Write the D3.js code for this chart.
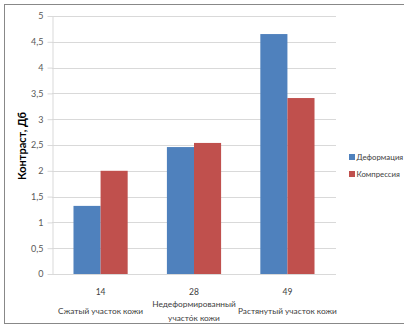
<!DOCTYPE html>
<html><head><meta charset="utf-8">
<script src="https://cdn.jsdelivr.net/npm/d3@7/dist/d3.min.js"></script>
<style>body{margin:0;background:#fff}text{font-family:Lato,"Liberation Sans",Arial,sans-serif}</style>
</head><body><svg id="c" width="404" height="325"></svg>
<script>
const categories = ["14", "28", "49"];
const categoryNames = [["Сжатый участок кожи"], ["Недеформированный", "участо́к кожи"], ["Растянутый участок кожи"]];
const seriesNames = ["Деформация", "Компрессия"];
const deformation = [1.32, 2.46, 4.65];
const compression = [2.0, 2.54, 3.41];
const yTicks = [0, 0.5, 1, 1.5, 2, 2.5, 3, 3.5, 4, 4.5, 5];
const colors = ["#4F81BD", "#C0504D"];

const svg = d3.select("#c");
svg.append("rect").attr("x",4.5).attr("y",4.5).attr("width",404).attr("height",319)
  .attr("fill","none").attr("stroke","#888").attr("stroke-width",1);

const pLeft=52, pRight=336, pTop=16, pBottom=274;
const x = d3.scaleBand().domain(categories).range([pLeft,pRight]).paddingInner(0.42).paddingOuter(0.23);
const xs = d3.scaleBand().domain(seriesNames).range([0,x.bandwidth()]);
const y = d3.scaleLinear().domain([0,5]).range([pBottom,pTop]);

const fmt = d => String(d).replace(".", ",");
svg.append("g").selectAll("line").data(yTicks.filter(d=>d>0)).join("line")
  .attr("x1",pLeft).attr("x2",pRight).attr("y1",d=>Math.round(y(d))+0.5).attr("y2",d=>Math.round(y(d))+0.5)
  .attr("stroke","#d9d9d9").attr("stroke-width",1);
const ya = svg.append("g").attr("transform",`translate(${pLeft+0.5},0)`)
  .call(d3.axisLeft(y).tickValues(yTicks).tickFormat(fmt).tickSize(5).tickSizeOuter(0));
ya.select(".domain").attr("stroke","#d9d9d9");
ya.selectAll(".tick line").attr("stroke","#d9d9d9");
ya.selectAll(".tick text").attr("fill","#595959").attr("font-size","9px").attr("x",-9);
svg.append("line").attr("x1",pLeft).attr("x2",pRight).attr("y1",pBottom+0.5).attr("y2",pBottom+0.5).attr("stroke","#d9d9d9");

const data = categories.map((c,i)=>({c, vals:[deformation[i], compression[i]]}));
const g = svg.append("g").selectAll("g").data(data).join("g").attr("transform",d=>`translate(${x(d.c)},0)`);
g.selectAll("rect").data(d=>d.vals.map((v,j)=>({v,s:seriesNames[j],j}))).join("rect")
  .attr("x",d=>xs(d.s)).attr("width",xs.bandwidth()).attr("y",d=>y(d.v)).attr("height",d=>pBottom-y(d.v))
  .attr("fill",d=>colors[d.j]);

categories.forEach((c,i)=>{
  const cx = x(c)+x.bandwidth()/2;
  svg.append("text").attr("x",cx).attr("y",295).attr("text-anchor","middle").attr("font-size","8.5px").attr("fill","#404040").text(c);
  const lines = categoryNames[i];
  const y0 = lines.length===1 ? 314 : 306.5;
  lines.forEach((t,k)=>svg.append("text").attr("x",cx).attr("y",y0+k*14).attr("text-anchor","middle")
    .attr("font-size","8.3px").attr("fill","#404040").text(t));
});

svg.append("text").attr("transform","translate(26,146) rotate(-90)").attr("text-anchor","middle")
  .attr("font-size","11px").attr("font-weight","bold").attr("fill","#000").text("Контраст, Дб");

const lg = svg.append("g").selectAll("g").data(seriesNames).join("g")
  .attr("transform",(d,i)=>`translate(349,${157+i*17})`);
lg.append("rect").attr("x",0).attr("y",-3).attr("width",6).attr("height",6).attr("fill",(d,i)=>colors[i]);
lg.append("text").attr("x",7.5).attr("y",3).attr("font-size","7.8px").attr("fill","#404040").text(d=>d);
</script></body></html>
